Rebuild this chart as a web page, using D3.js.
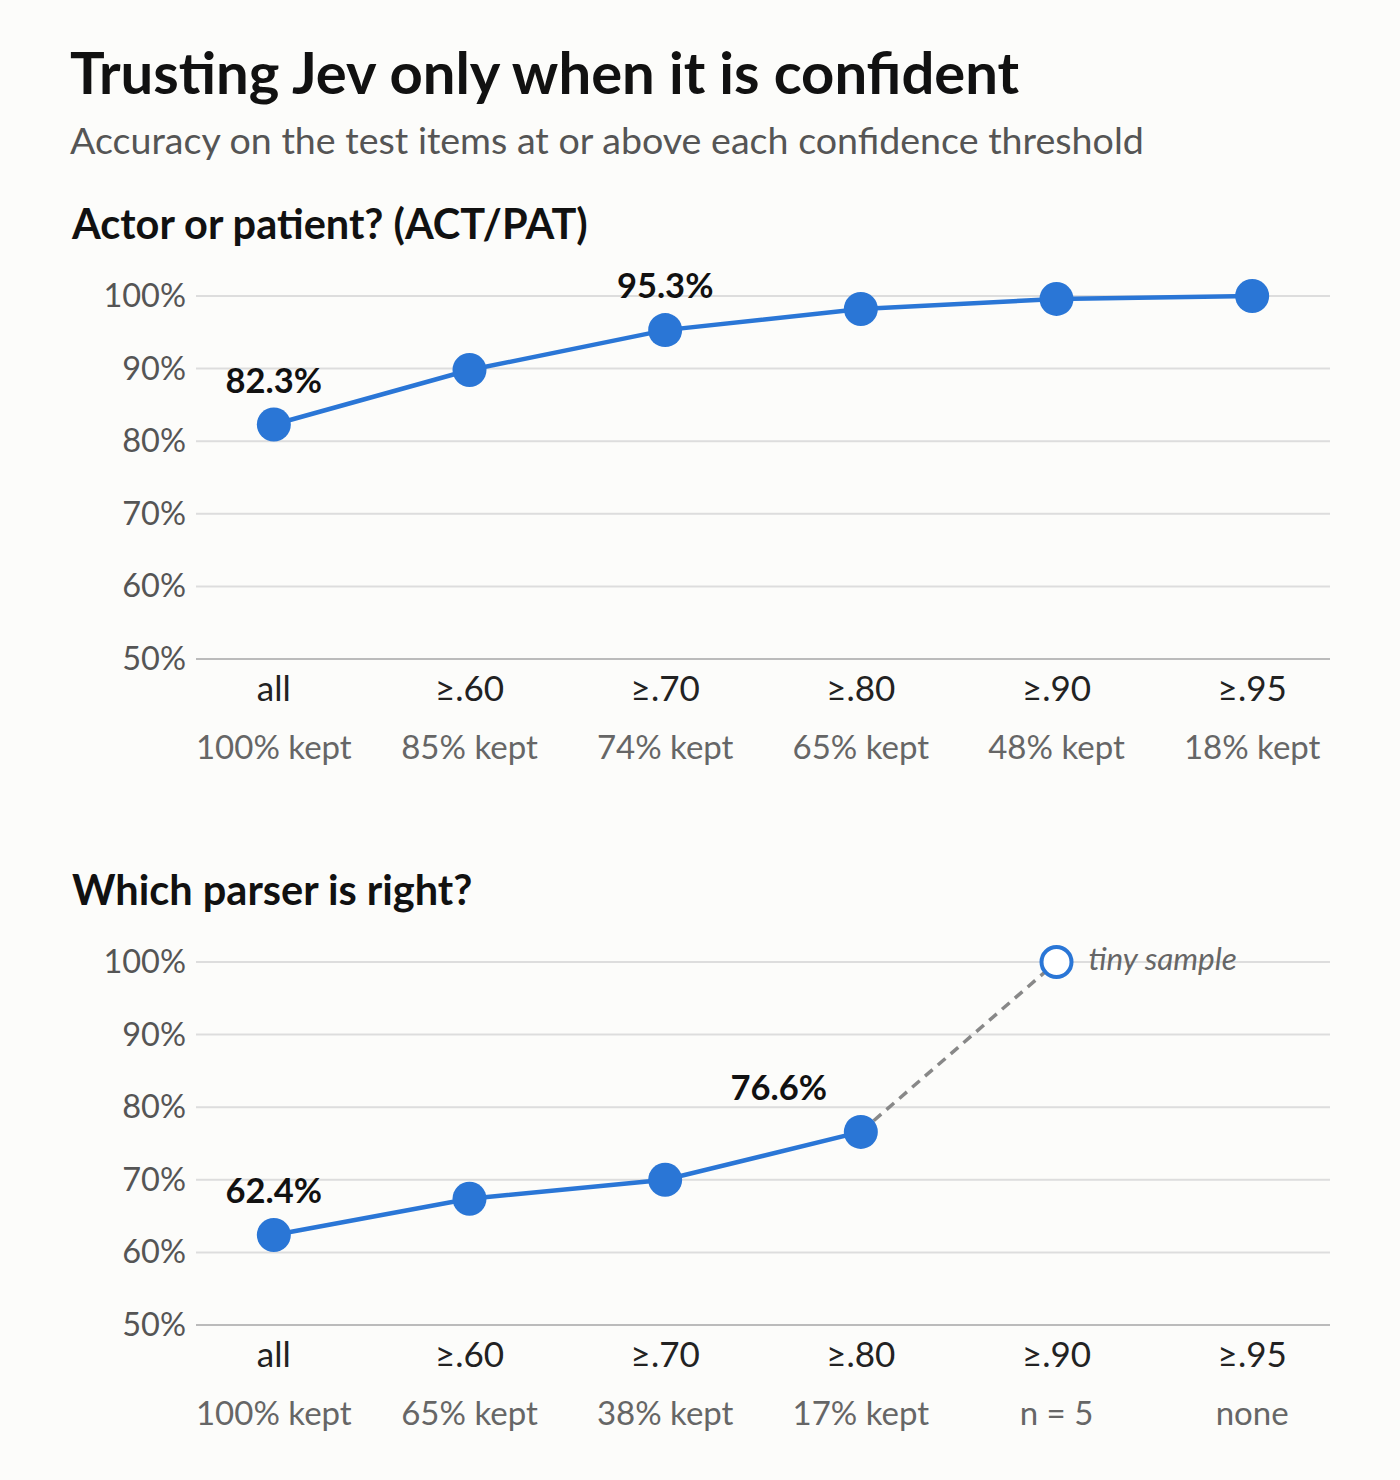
<!DOCTYPE html>
<html><head><meta charset="utf-8">
<script src="https://cdn.jsdelivr.net/npm/d3@7"></script>
<style>body{margin:0;background:#fcfcfa;}svg{font-family:Lato,sans-serif;}</style>
</head><body>
<svg id="c" width="1400" height="1480"></svg>
<script>
const thresholds = ["all","≥.60","≥.70","≥.80","≥.90","≥.95"];
const yTicks = [50,60,70,80,90,100];
const actValues = [82.3,89.8,95.3,98.2,99.6,100];
const actKept = ["100% kept","85% kept","74% kept","65% kept","48% kept","18% kept"];
const actLabeled = [0,2];
const parValues = [62.4,67.4,70.0,76.6];
const parTiny = [{i:4, v:100}];
const parKept = ["100% kept","65% kept","38% kept","17% kept","n = 5","none"];
const parLabeled = [0,3];

const svg = d3.select("#c");
svg.append("rect").attr("width",1400).attr("height",1480).attr("fill","#fcfcfa");
svg.append("text").attr("x",70).attr("y",94).attr("font-size",58).attr("font-weight",700).attr("fill","#111").text("Trusting Jev only when it is confident");
svg.append("text").attr("x",70).attr("y",154).attr("font-size",37.6).attr("fill","#555").text("Accuracy on the test items at or above each confidence threshold");

const blue="#2a76d6";
const x = d3.scalePoint().domain(d3.range(6)).range([176,1350]).padding(0.5);

function panel(top, title, vals, kept, labeled, tiny){
  const y = d3.scaleLinear().domain([50,100]).range([top+363, top]);
  svg.append("text").attr("x",72).attr("y",top-57).attr("font-size",41.5).attr("font-weight",700).attr("fill","#111").text(title);
  const g = svg.append("g");
  yTicks.forEach(t=>{
    g.append("line").attr("x1",196).attr("x2",1330).attr("y1",y(t)).attr("y2",y(t))
      .attr("stroke", t===50?"#bbb":"#ddd").attr("stroke-width",2);
    g.append("text").attr("x",186).attr("y",y(t)+11).attr("text-anchor","end").attr("font-size",32.5).attr("fill","#555").text(t+"%");
  });
  thresholds.forEach((c,i)=>{
    g.append("text").attr("x",x(i)).attr("y",top+405).attr("text-anchor","middle").attr("font-size",35).attr("fill","#222").text(c);
    g.append("text").attr("x",x(i)).attr("y",top+463).attr("text-anchor","middle").attr("font-size",33).attr("fill","#666").text(kept[i]);
  });
  if(tiny){
    tiny.forEach(t=>{
      const li=vals.length-1;
      g.append("line").attr("x1",x(li)).attr("y1",y(vals[li])).attr("x2",x(t.i)).attr("y2",y(t.v))
        .attr("stroke","#888").attr("stroke-width",3.5).attr("stroke-dasharray","10,7");
    });
  }
  g.append("path").datum(vals).attr("fill","none").attr("stroke",blue).attr("stroke-width",4.5)
    .attr("d", d3.line().x((d,i)=>x(i)).y(d=>y(d)));
  g.selectAll("circle.p").data(vals).enter().append("circle").attr("cx",(d,i)=>x(i)).attr("cy",d=>y(d)).attr("r",17).attr("fill",blue);
  labeled.forEach(i=>{
    const dx = (i===3 && tiny)? -82 : 0;
    g.append("text").attr("x",x(i)+dx).attr("y",y(vals[i])-32).attr("text-anchor","middle").attr("font-size",34.5).attr("font-weight",700).attr("fill","#111").text(vals[i].toFixed(1)+"%");
  });
  if(tiny){
    tiny.forEach(t=>{
      g.append("circle").attr("cx",x(t.i)).attr("cy",y(t.v)).attr("r",15).attr("fill","#fff").attr("stroke",blue).attr("stroke-width",4);
      g.append("text").attr("x",x(t.i)+32).attr("y",y(t.v)+8).attr("font-size",31.5).attr("font-style","italic").attr("fill","#666").text("tiny sample");
    });
  }
}
panel(296,"Actor or patient? (ACT/PAT)",actValues,actKept,actLabeled,null);
panel(962,"Which parser is right?",parValues,parKept,parLabeled,parTiny);
</script>
</body></html>
